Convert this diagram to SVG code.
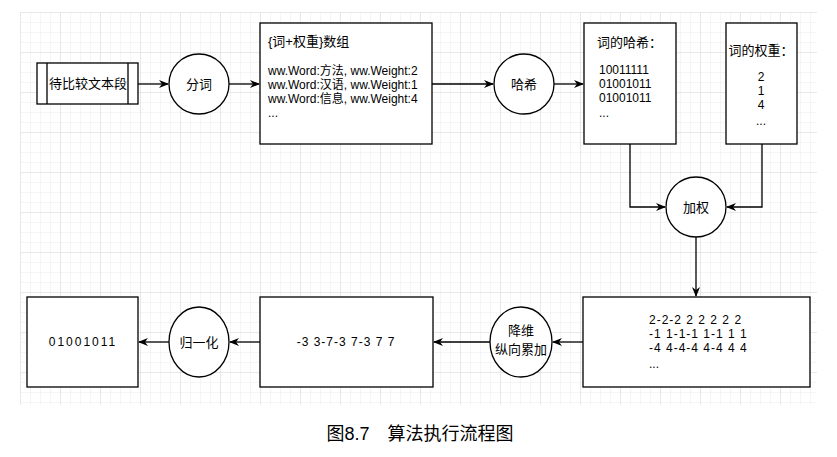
<svg xmlns="http://www.w3.org/2000/svg" width="837" height="457" viewBox="0 0 837 457">
<defs>
<pattern id="g" width="10" height="10" patternUnits="userSpaceOnUse" x="20" y="12"><path d="M10 0H0V10" fill="none" stroke="#ececec" stroke-width="1"/></pattern>
<pattern id="G" width="40" height="40" patternUnits="userSpaceOnUse" x="20" y="12"><path d="M40 0H0V40" fill="none" stroke="#dcdcdc" stroke-width="1"/></pattern>
<marker id="a" markerWidth="10" markerHeight="8" refX="9" refY="4" orient="auto" markerUnits="userSpaceOnUse"><path d="M0 0L10 4L0 8L3 4Z" fill="#000"/></marker>
</defs>
<style>
.n{fill:#fff;stroke:#000;stroke-width:1.3}
.t{font-family:"Liberation Sans","Noto Sans CJK SC",sans-serif;font-size:12px;fill:#000}
.c{text-anchor:middle}
.e{fill:none;stroke:#000;stroke-width:1.3;marker-end:url(#a)}
</style>
<rect width="837" height="457" fill="#fff"/>
<rect x="20" y="12" width="797" height="393" fill="url(#g)"/>
<rect x="20" y="12" width="797" height="393" fill="url(#G)"/>
<g id="connectors">
<path class="e" d="M138 84H168"/>
<path class="e" d="M229 84H259"/>
<path class="e" d="M432 84H493"/>
<path class="e" d="M554 84H583"/>
<path class="e" d="M630 144V207H665"/>
<path class="e" d="M762 144V207H727"/>
<path class="e" d="M696 237V296"/>
<path class="e" d="M583 342H553"/>
<path class="e" d="M490 342H434"/>
<path class="e" d="M260 342H230"/>
<path class="e" d="M169 342H139"/>
</g>
<g id="src"><rect class="n" x="37" y="63" width="101" height="41"/><path d="M47 63V104M128 63V104" stroke="#000" stroke-width="1.3"/><text class="t c" x="88" y="88" style="font-size:13px">待比较文本段</text></g>
<g id="fenci"><circle class="n" cx="199" cy="84" r="30"/><text class="t c" x="199" y="89" style="font-size:13px">分词</text></g>
<g id="arr"><rect class="n" x="260" y="23" width="172" height="121"/>
<text class="t" x="268" y="46" style="font-size:13px">{词+权重}数组</text>
<text class="t" x="268" y="75">ww.Word:方法, ww.Weight:2</text>
<text class="t" x="268" y="89">ww.Word:汉语, ww.Weight:1</text>
<text class="t" x="268" y="103">ww.Word:信息, ww.Weight:4</text>
<text class="t" x="268" y="117">...</text></g>
<g id="haxi"><circle class="n" cx="524" cy="84" r="30"/><text class="t c" x="524" y="89" style="font-size:13px">哈希</text></g>
<g id="hash"><rect class="n" x="584" y="23" width="92" height="121"/>
<text class="t" x="597" y="47" style="font-size:13px">词的哈希：</text>
<text class="t" x="599" y="74">10011111</text>
<text class="t" x="599" y="88">01001011</text>
<text class="t" x="599" y="102">01001011</text>
<text class="t" x="599" y="117">...</text></g>
<g id="weight"><rect class="n" x="726" y="23" width="71" height="121"/>
<text class="t c" x="761" y="55" style="font-size:13px">词的权重：</text>
<text class="t c" x="761" y="81">2</text>
<text class="t c" x="761" y="95">1</text>
<text class="t c" x="761" y="109">4</text>
<text class="t c" x="761" y="125">...</text></g>
<g id="jiaquan"><circle class="n" cx="696" cy="207" r="30"/><text class="t c" x="696" y="212" style="font-size:13px">加权</text></g>
<g id="vec"><rect class="n" x="583" y="297" width="227" height="90"/>
<text class="t" x="649" y="324" style="letter-spacing:1px">2-2-2 2 2 2 2 2</text>
<text class="t" x="649" y="338" style="letter-spacing:1px">-1 1-1-1 1-1 1 1</text>
<text class="t" x="649" y="352" style="letter-spacing:1px">-4 4-4-4 4-4 4 4</text>
<text class="t" x="649" y="368">...</text></g>
<g id="jiangwei"><ellipse class="n" cx="521" cy="342" rx="31" ry="35"/><text class="t c" x="521" y="335" style="font-size:13px">降维</text><text class="t c" x="521" y="354" style="font-size:13px">纵向累加</text></g>
<g id="sum"><rect class="n" x="260" y="297" width="173" height="90"/><text class="t c" x="346" y="346" style="letter-spacing:1px">-3 3-7-3 7-3 7 7</text></g>
<g id="guiyi"><ellipse class="n" cx="199" cy="342" rx="30" ry="35"/><text class="t c" x="199" y="347" style="font-size:13px">归一化</text></g>
<g id="out"><rect class="n" x="27" y="297" width="111" height="90"/><text class="t c" x="83" y="346" style="letter-spacing:2px">01001011</text></g>
<text class="t c" x="420" y="440" style="font-size:18px">图8.7　算法执行流程图</text>
</svg>
